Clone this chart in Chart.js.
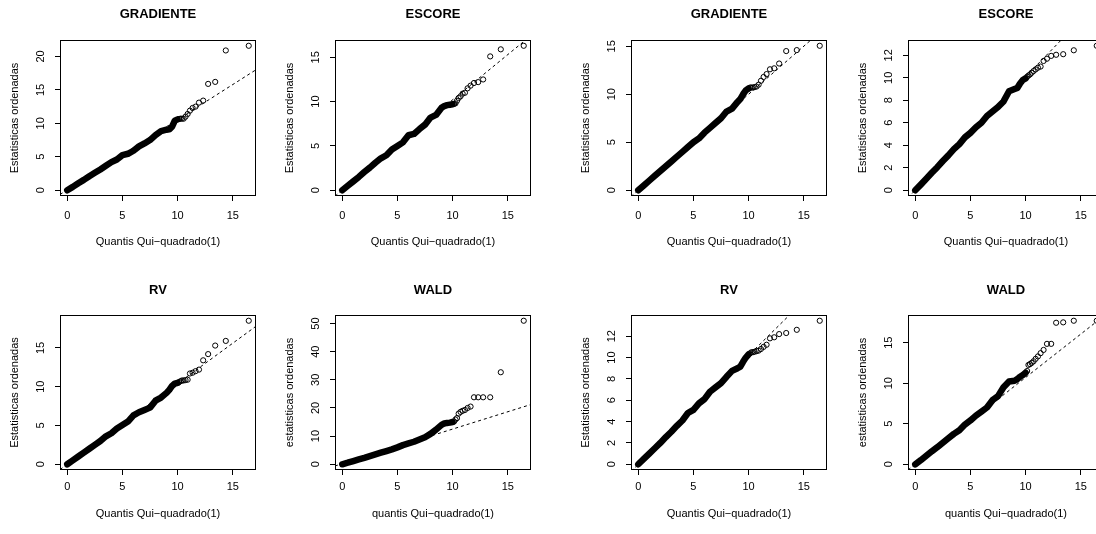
<!DOCTYPE html>
<html><head><meta charset="utf-8">
<script src="https://cdn.jsdelivr.net/npm/chart.js@4.4.0/dist/chart.umd.min.js"></script>
<style>
html,body{margin:0;padding:0;background:#fff;width:1096px;height:534px;overflow:hidden;position:relative}
canvas{position:absolute}
</style></head><body>
<script>
// ---------- data ----------
const xTicks = [0, 5, 10, 15];
const bandX = [0,0.5,1,1.5,2,2.5,3,3.5,4,4.5,5,5.5,6,6.5,7,7.5,8,8.5,9,9.25,9.5,9.75,10];
const tailX = [10.14,10.26,10.40,10.55,10.72,10.91,11.12,11.36,11.63,11.94,12.32,12.77,13.41,14.37,16.45];

const panelTitles = ["GRADIENTE","ESCORE","GRADIENTE","ESCORE","RV","WALD","RV","WALD"];
const yAxisTitles = ["Estatisticas ordenadas","Estatisticas ordenadas","Estatisticas ordenadas","Estatisticas ordenadas",
                     "Estatisticas ordenadas","estatisticas ordenadas","Estatisticas ordenadas","estatisticas ordenadas"];
const xAxisTitles = ["Quantis Qui\u2212quadrado(1)","Quantis Qui\u2212quadrado(1)","Quantis Qui\u2212quadrado(1)","Quantis Qui\u2212quadrado(1)",
                     "Quantis Qui\u2212quadrado(1)","quantis Qui\u2212quadrado(1)","Quantis Qui\u2212quadrado(1)","quantis Qui\u2212quadrado(1)"];

const yTicksGradA = [0,5,10,15,20];
const yTicksEscA  = [0,5,10,15];
const yTicksGradB = [0,5,10,15];
const yTicksEscB  = [0,2,4,6,8,10,12];
const yTicksRvA   = [0,5,10,15];
const yTicksWaldA = [0,10,20,30,40,50];
const yTicksRvB   = [0,2,4,6,8,10,12];
const yTicksWaldB = [0,5,10,15];

const gradABand = [0,0.5,1.05,1.55,2.1,2.6,3.1,3.65,4.2,4.6,5.25,5.45,5.9,6.55,7.0,7.5,8.25,8.85,9.05,9.1,9.5,10.4,10.6];
const gradATail = [10.65,10.7,10.7,10.7,11.0,11.4,11.9,12.3,12.5,13.1,13.4,15.9,16.2,20.9,21.6];
const escABand  = [0,0.5,1.0,1.5,2.05,2.55,3.1,3.6,3.95,4.6,5.0,5.4,6.2,6.35,6.9,7.4,8.2,8.5,9.3,9.5,9.6,9.65,9.7];
const escATail  = [9.75,9.8,10.1,10.4,10.6,10.9,11.0,11.5,11.8,12.1,12.2,12.5,15.1,15.9,16.3];
const gradBBand = [0,0.5,1,1.5,2,2.5,3,3.5,4.0,4.5,5.0,5.4,6.0,6.5,7.0,7.5,8.2,8.5,9.2,9.5,10.0,10.4,10.6];
const gradBTail = [10.7,10.7,10.7,10.75,10.8,11.0,11.4,11.8,12.1,12.6,12.7,13.2,14.5,14.6,15.05];
const escBBand  = [0,0.5,1.02,1.55,2.05,2.6,3.1,3.65,4.1,4.7,5.1,5.6,6.0,6.6,7.0,7.4,7.9,8.8,9.0,9.1,9.5,9.8,9.95];
const escBTail  = [10.1,10.2,10.3,10.45,10.6,10.75,10.9,11.0,11.5,11.7,11.95,12.05,12.1,12.45,12.85];
const rvABand   = [0,0.5,1,1.5,2,2.5,3.0,3.6,4.0,4.6,5.05,5.5,6.3,6.7,7.0,7.3,8.2,8.6,9.2,9.6,10.1,10.4,10.5];
const rvATail   = [10.6,10.7,10.8,10.8,10.85,10.9,11.7,11.8,12.0,12.2,13.4,14.2,15.3,15.9,18.5];
const waldABand = [0,0.55,1.15,1.75,2.3,2.9,3.5,4.1,4.7,5.3,6.0,6.8,7.4,8.0,8.8,9.6,10.8,12.3,14.0,14.5,14.7,14.8,15.0];
const waldATail = [15.2,15.9,16.4,18.0,18.6,19.0,19.3,20.0,20.5,23.8,23.8,23.8,23.8,32.7,51.0];
const rvBBand   = [0,0.5,1,1.5,2,2.55,3.05,3.6,4.1,4.8,5.1,5.7,6.1,6.8,7.2,7.6,8.2,8.75,9.0,9.15,9.6,10.0,10.3];
const rvBTail   = [10.4,10.5,10.5,10.55,10.6,10.65,10.8,11.0,11.2,11.8,11.9,12.2,12.3,12.6,13.45];
const waldBBand = [0,0.5,1.05,1.6,2.1,2.65,3.2,3.75,4.2,4.9,5.4,6.0,6.5,7.0,7.9,8.4,9.5,10.2,10.3,10.5,10.8,11.0,11.3];
const waldBTail = [11.5,12.25,12.35,12.5,12.7,13.0,13.3,13.7,14.1,14.85,14.85,17.45,17.5,17.7,17.7];

// reference (dashed) lines: slope, intercept
const lineSlopes     = [1.05,1.02,1.00,1.01,1.04,1.23,1.02,1.07];
const lineIntercepts = [0.05,0.00,0.00,0.00,0.00,0.20,0.00,0.00];

const bands = [gradABand, escABand, gradBBand, escBBand, rvABand, waldABand, rvBBand, waldBBand];
const tails = [gradATail, escATail, gradBTail, escBTail, rvATail, waldATail, rvBTail, waldBTail];
const yTicksAll = [yTicksGradA, yTicksEscA, yTicksGradB, yTicksEscB, yTicksRvA, yTicksWaldA, yTicksRvB, yTicksWaldB];

// ---------- layout ----------
const FONT = "'Liberation Sans', Arial, Helvetica, sans-serif";
const colBoxLeft = [60, 335, 631, 908];
const rows = [
  {top: 0,   boxTop: 40, boxBottom: 196, tickCenter: 216, xTitleCenter: 241.5, titleCenter: 14},
  {top: 267, boxTop: 48, boxBottom: 203, tickCenter: 220, xTitleCenter: 247,   titleCenter: 23}
];
const CW = 268, CH = 267, AXW = 60, PADR = 12;

const framePlugin = {
  id: 'frame',
  afterDatasetsDraw(chart) {
    const {ctx, chartArea: a} = chart;
    ctx.save();
    ctx.strokeStyle = '#000';
    ctx.lineWidth = 1;
    ctx.strokeRect(a.left + 0.5, a.top + 0.5, a.right - a.left - 1, a.bottom - a.top - 1);
    ctx.restore();
  }
};

const xMaxData = Math.max(...tailX);
const xMin = -0.04 * xMaxData, xMax = 1.04 * xMaxData;

for (let i = 0; i < 8; i++) {
  const row = rows[Math.floor(i / 4)];
  const col = i % 4;
  const cv = document.createElement('canvas');
  cv.width = CW; cv.height = CH;
  cv.style.left = (colBoxLeft[col] - AXW) + 'px';
  cv.style.top = row.top + 'px';
  cv.style.width = CW + 'px'; cv.style.height = CH + 'px';
  document.body.appendChild(cv);

  const band = bandX.map((x, k) => ({x, y: bands[i][k]}));
  const tail = tailX.map((x, k) => ({x, y: tails[i][k]}));
  const yMaxData = Math.max(...bands[i], ...tails[i]);
  const yMin = -0.04 * yMaxData, yMax = 1.04 * yMaxData;
  const refLine = [xMin, xMax].map(x => ({x, y: lineIntercepts[i] + lineSlopes[i] * x}));
  const yTicks = yTicksAll[i];

  new Chart(cv, {
    type: 'scatter',
    data: {
      datasets: [
        {data: refLine, showLine: true, borderColor: '#000', borderWidth: 1, borderDash: [3, 3],
         pointRadius: 0, order: 0},
        {data: tail, showLine: false, pointRadius: 2.6, pointBorderWidth: 1, borderColor: '#000',
         backgroundColor: 'rgba(0,0,0,0)', pointBackgroundColor: 'rgba(0,0,0,0)', order: 1},
        {data: band, showLine: true, borderColor: '#000', borderWidth: 6.5, borderCapStyle: 'round',
         borderJoinStyle: 'round', pointRadius: 0, tension: 0, order: 2}
      ]
    },
    options: {
      responsive: false, animation: false, devicePixelRatio: 1, events: [],
      layout: {padding: {left: 0, right: PADR, top: 0, bottom: 0}},
      plugins: {
        legend: {display: false}, tooltip: {enabled: false},
        title: {display: true, text: panelTitles[i], color: '#000', fullSize: false,
          font: {family: FONT, size: 13, weight: 'bold', lineHeight: 1.2},
          padding: {top: row.titleCenter - 7.8, bottom: row.boxTop - row.titleCenter - 7.8}}
      },
      scales: {
        x: {
          type: 'linear', position: 'bottom', min: xMin, max: xMax,
          afterBuildTicks: s => { s.ticks = xTicks.map(v => ({value: v})); },
          afterFit: s => { s.height = CH - row.boxBottom; },
          grid: {display: true, drawOnChartArea: false, drawTicks: true, tickLength: 5, color: '#000', lineWidth: 1},
          border: {display: false},
          ticks: {color: '#000', font: {family: FONT, size: 11, lineHeight: 1.2}, autoSkip: false,
                  maxRotation: 0, minRotation: 0, padding: row.tickCenter - row.boxBottom - 5 - 6.6},
          title: {display: true, text: xAxisTitles[i], color: '#000',
                  font: {family: FONT, size: 11, lineHeight: 1.2},
                  padding: {top: 0, bottom: (CH - row.xTitleCenter) - 6.6}}
        },
        y: {
          type: 'linear', position: 'left', min: yMin, max: yMax,
          afterBuildTicks: s => { s.ticks = yTicks.map(v => ({value: v})); },
          afterFit: s => { s.width = AXW; },
          grid: {display: true, drawOnChartArea: false, drawTicks: true, tickLength: 5, color: '#000', lineWidth: 1},
          border: {display: false},
          ticks: {color: '#000', font: {family: FONT, size: 11, lineHeight: 1.2}, autoSkip: false,
                  minRotation: 90, maxRotation: 90, crossAlign: 'center', padding: 8.4},
          title: {display: true, text: yAxisTitles[i], color: '#000',
                  font: {family: FONT, size: 11, lineHeight: 1.2},
                  padding: {top: 14.5 - 6.6, bottom: 0}}
        }
      }
    },
    plugins: [framePlugin]
  });
}
</script>
</body></html>
